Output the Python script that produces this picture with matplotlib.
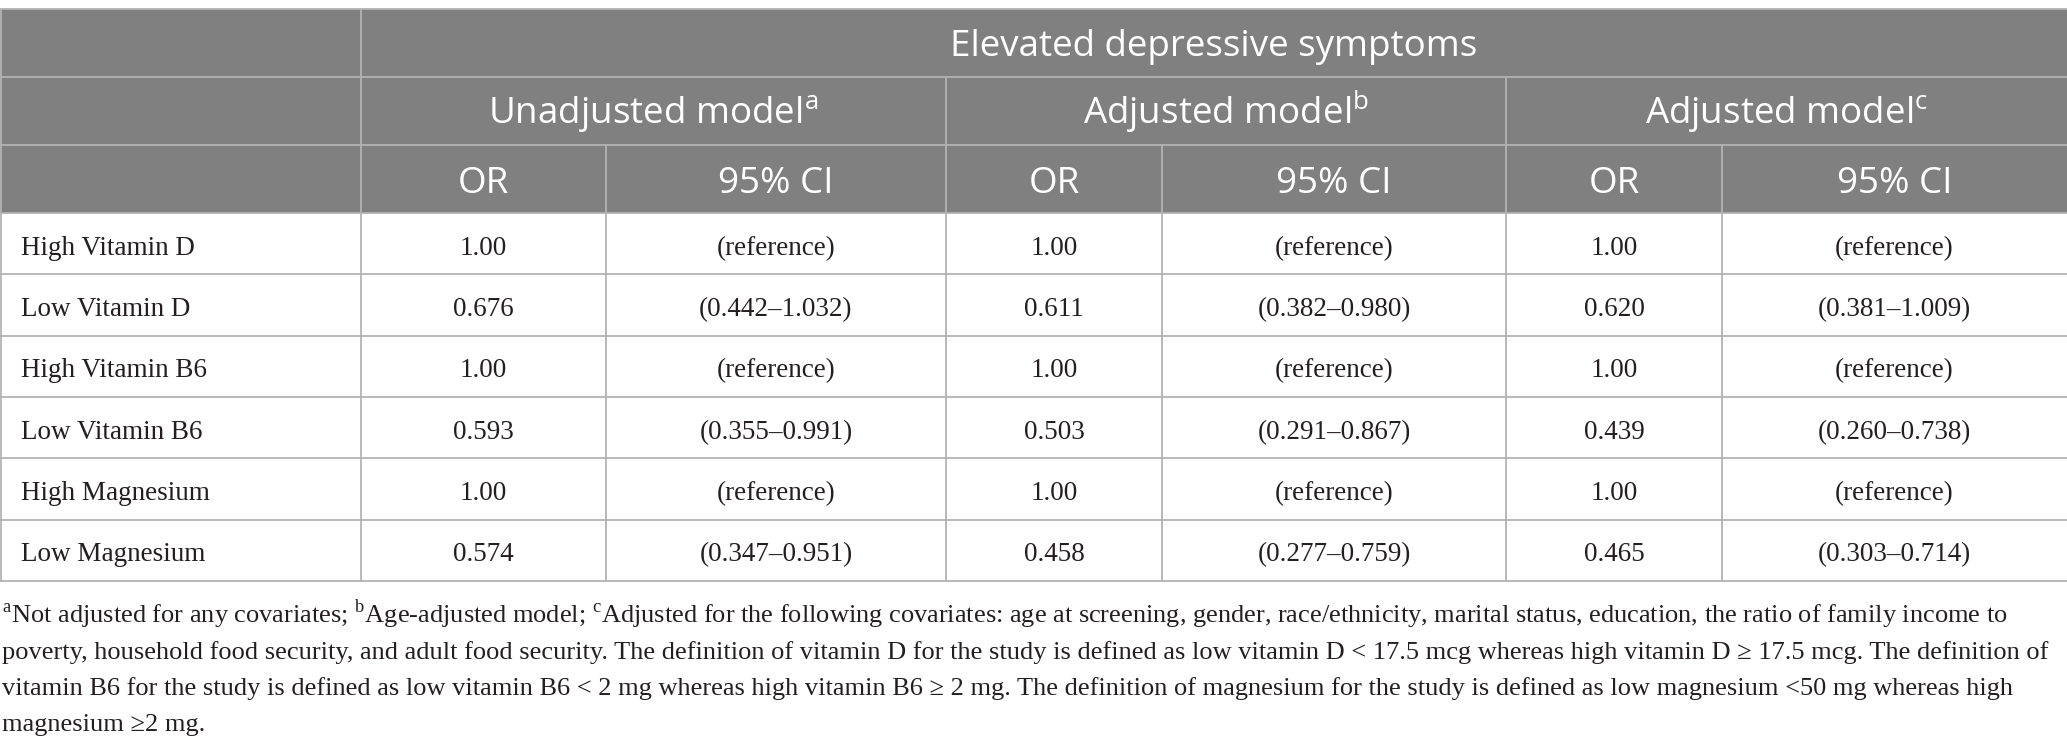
import matplotlib
matplotlib.use("Agg")
import matplotlib.pyplot as plt

plt.rcParams["mathtext.fontset"] = "custom"
plt.rcParams["mathtext.rm"] = "Liberation Serif"
plt.rcParams["mathtext.sf"] = "Open Sans"

# table content
group_title = "Elevated depressive symptoms"
models = ["Unadjusted model$^{\\mathsf{a}}$", "Adjusted model$^{\\mathsf{b}}$", "Adjusted model$^{\\mathsf{c}}$"]
sub_cols = ["OR", "95% CI"]
rows = ["High Vitamin D", "Low Vitamin D", "High Vitamin B6",
        "Low Vitamin B6", "High Magnesium", "Low Magnesium"]
unadj_or = ["1.00", "0.676", "1.00", "0.593", "1.00", "0.574"]
unadj_ci = ["(reference)", "(0.442–1.032)", "(reference)", "(0.355–0.991)", "(reference)", "(0.347–0.951)"]
adjb_or = ["1.00", "0.611", "1.00", "0.503", "1.00", "0.458"]
adjb_ci = ["(reference)", "(0.382–0.980)", "(reference)", "(0.291–0.867)", "(reference)", "(0.277–0.759)"]
adjc_or = ["1.00", "0.620", "1.00", "0.439", "1.00", "0.465"]
adjc_ci = ["(reference)", "(0.381–1.009)", "(reference)", "(0.260–0.738)", "(reference)", "(0.303–0.714)"]
footnote = [
    "$^{\\mathrm{a}}$Not adjusted for any covariates; $^{\\mathrm{b}}$Age-adjusted model; $^{\\mathrm{c}}$Adjusted for the following covariates: age at screening, gender, race/ethnicity, marital status, education, the ratio of family income to",
    "poverty, household food security, and adult food security. The definition of vitamin D for the study is defined as low vitamin D < 17.5 mcg whereas high vitamin D ≥ 17.5 mcg. The definition of",
    "vitamin B6 for the study is defined as low vitamin B6 < 2 mg whereas high vitamin B6 ≥ 2 mg. The definition of magnesium for the study is defined as low magnesium <50 mg whereas high",
    "magnesium ≥2 mg.",
]

W, H = 2067, 753
head_bg = "#808080"
line_c = "#b3b3b3"
txt_c = "#231f20"

fig = plt.figure(figsize=(W / 100, H / 100), dpi=100)
ax = fig.add_axes([0, 0, 1, 1])
ax.set_xlim(0, W)
ax.set_ylim(H, 0)
ax.axis("off")

col_x = [1, 361, 606, 946, 1162, 1506, 1722, W]
head_y = [9, 77, 145, 213]
row_h = (581 - 213) / len(rows)
row_y = [213 + i * row_h for i in range(len(rows) + 1)]

# header background
ax.add_patch(plt.Rectangle((0, head_y[0]), W, head_y[3] - head_y[0], color=head_bg, lw=0))

# grid lines
lw = 1.3
ax.hlines(head_y + row_y[1:], 0, W, color=line_c, lw=lw)
ax.vlines([col_x[0], col_x[1]], head_y[0], row_y[-1], color=line_c, lw=lw)
ax.vlines([col_x[3], col_x[5]], head_y[1], row_y[-1], color=line_c, lw=lw)
ax.vlines([col_x[2], col_x[4], col_x[6]], head_y[2], row_y[-1], color=line_c, lw=lw)

hfont = dict(family="Open Sans", size=26.5, color="white", ha="center", va="baseline")
ax.text((col_x[1] + W) / 2, 56, group_title, **hfont)
for k, m in enumerate(models):
    ax.text((col_x[1 + 2 * k] + col_x[3 + 2 * k]) / 2, 124, m, **hfont)
    for j, s in enumerate(sub_cols):
        ax.text((col_x[1 + 2 * k + j] + col_x[2 + 2 * k + j]) / 2, 193, s, **hfont)

bfont = dict(family="Liberation Serif", size=19.5, color=txt_c, va="baseline")
cols = [unadj_or, unadj_ci, adjb_or, adjb_ci, adjc_or, adjc_ci]
for i, name in enumerate(rows):
    yb = (row_y[i] + row_y[i + 1]) / 2 + 11
    ax.text(21, yb, name, ha="left", **bfont)
    for j, vals in enumerate(cols):
        ax.text((col_x[1 + j] + col_x[2 + j]) / 2, yb, vals[i], ha="center", **bfont)

for i, line in enumerate(footnote):
    ax.text(2, 623 + i * 36, line, family="Liberation Serif", size=19,
            color=txt_c, ha="left", va="baseline")

fig.savefig("out.png", dpi=100, facecolor="white")
